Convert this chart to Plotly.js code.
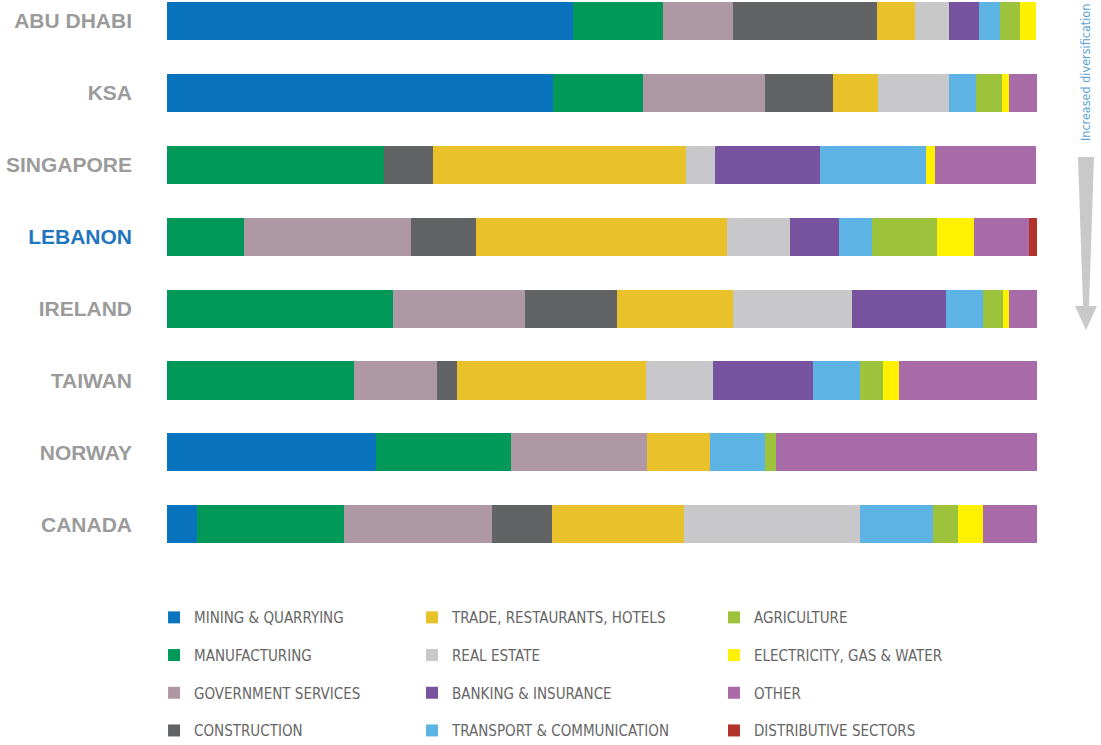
<!DOCTYPE html>
<html>
<head>
<meta charset="utf-8">
<script src="https://cdn.plot.ly/plotly-3.0.1.min.js"></script>
<style>
  html, body { margin: 0; padding: 0; background: #ffffff; }
  #chart { width: 1101px; height: 745px; }
</style>
</head>
<body>
<div id="chart"></div>
<script>
// Countries (top to bottom)
const countries = ["ABU DHABI", "KSA", "SINGAPORE", "LEBANON", "IRELAND", "TAIWAN", "NORWAY", "CANADA"];
const countryLabels = ["ABU DHABI", "KSA", "SINGAPORE", '<span style="color:#1f76bf">LEBANON</span>', "IRELAND", "TAIWAN", "NORWAY", "CANADA"];

// Sector shares of GDP (%), per country in the order above
const mining        = [46.7, 44.4, 0,    0,    0,    0,    24.0, 3.4];
const manufacturing = [10.3, 10.3, 24.9, 8.9,  26.0, 21.5, 15.5, 16.9];
const government    = [8.0,  14.0, 0,    19.2, 15.2, 9.5,  15.7, 17.0];
const construction  = [16.6, 7.9,  5.7,  7.4,  10.5, 2.3,  0,    6.9];
const trade         = [4.4,  5.1,  29.0, 28.9, 13.3, 21.7, 7.2,  15.2];
const realEstate    = [3.9,  8.2,  3.4,  7.2,  13.7, 7.8,  0,    20.2];
const banking       = [3.4,  0,    12.1, 5.6,  10.8, 11.4, 0,    0];
const transport     = [2.5,  3.1,  12.1, 3.8,  4.3,  5.4,  6.3,  8.5];
const agriculture   = [2.3,  3.0,  0,    7.5,  2.3,  2.7,  1.3,  2.8];
const electricity   = [1.8,  0.8,  1.1,  4.3,  0.7,  1.8,  0,    2.9];
const other         = [0,    3.2,  11.6, 6.3,  3.2,  15.9, 30.0, 6.2];
const distributive  = [0,    0,    0,    1.0,  0,    0,    0,    0];

const sectorNames = ["MINING & QUARRYING", "MANUFACTURING", "GOVERNMENT SERVICES", "CONSTRUCTION",
  "TRADE, RESTAURANTS, HOTELS", "REAL ESTATE", "BANKING & INSURANCE", "TRANSPORT & COMMUNICATION",
  "AGRICULTURE", "ELECTRICITY, GAS & WATER", "OTHER", "DISTRIBUTIVE SECTORS"];
const sectorValues = [mining, manufacturing, government, construction, trade, realEstate,
  banking, transport, agriculture, electricity, other, distributive];
const sectorColors = ["#0a73bd", "#00995a", "#ae98a4", "#626364", "#e9c22b", "#c8c8ca",
  "#77539f", "#5db4e4", "#9dc23b", "#fff100", "#a96aa8", "#b2332a"];
const legendIds = ["legend", "legend", "legend", "legend", "legend2", "legend2", "legend2", "legend2",
  "legend3", "legend3", "legend3", "legend3"];

const traces = sectorNames.map((name, i) => ({
  type: "bar",
  orientation: "h",
  name: name,
  y: countries,
  x: sectorValues[i],
  marker: { color: sectorColors[i], line: { width: 0 } },
  legend: legendIds[i],
  legendgroup: "g" + i,
  legendrank: i + 1,
  hoverinfo: "skip"
}));

const legendFont = { family: "DejaVu Sans Condensed, Liberation Sans, sans-serif", size: 15, color: "#666666" };
function legendAt(x) {
  return {
    x: x, xanchor: "left", y: -0.0734, yanchor: "top",
    orientation: "v", traceorder: "grouped", tracegroupgap: 15.2,
    font: legendFont, bgcolor: "rgba(0,0,0,0)", borderwidth: 0,
    itemclick: false, itemdoubleclick: false
  };
}

const layout = {
  width: 1101, height: 745,
  margin: { l: 167, r: 64, t: 0, b: 185, autoexpand: false },
  paper_bgcolor: "#ffffff",
  plot_bgcolor: "#ffffff",
  barmode: "stack",
  bargap: 0.47,
  showlegend: true,
  hovermode: false,
  xaxis: { range: [0, 100], visible: false, showgrid: false, zeroline: false, fixedrange: true },
  yaxis: {
    type: "category",
    categoryorder: "array",
    categoryarray: countries,
    tickvals: countries,
    ticktext: countryLabels,
    range: [7.497, -0.292],
    autorange: false,
    showgrid: false, zeroline: false, showline: false,
    ticks: "",
    ticklabelstandoff: 34,
    tickfont: { family: "Liberation Sans, Arial, sans-serif", size: 21, color: "#9b9b9b", weight: "bold" },
    fixedrange: true
  },
  legend: legendAt(-0.0149),
  legend2: legendAt(0.2816),
  legend3: legendAt(0.6287),
  annotations: [{
    xref: "paper", yref: "paper",
    x: 1.0552, y: 0.8696,
    xanchor: "center", yanchor: "middle",
    text: "Increased diversification",
    textangle: -90,
    showarrow: false,
    font: { family: "DejaVu Sans Condensed, sans-serif", size: 12.5, color: "#5a9fd4" }
  }],
  shapes: [{
    type: "path",
    xref: "paper", yref: "paper",
    path: "M1.0471,0.7196 L1.0655,0.7196 L1.0598,0.4536 L1.0690,0.4536 L1.0563,0.4107 L1.0437,0.4536 L1.0529,0.4536 Z",
    fillcolor: "#c9c9c9",
    line: { width: 0 }
  }]
};

Plotly.newPlot("chart", traces, layout, { displayModeBar: false, staticPlot: true });
</script>
</body>
</html>
